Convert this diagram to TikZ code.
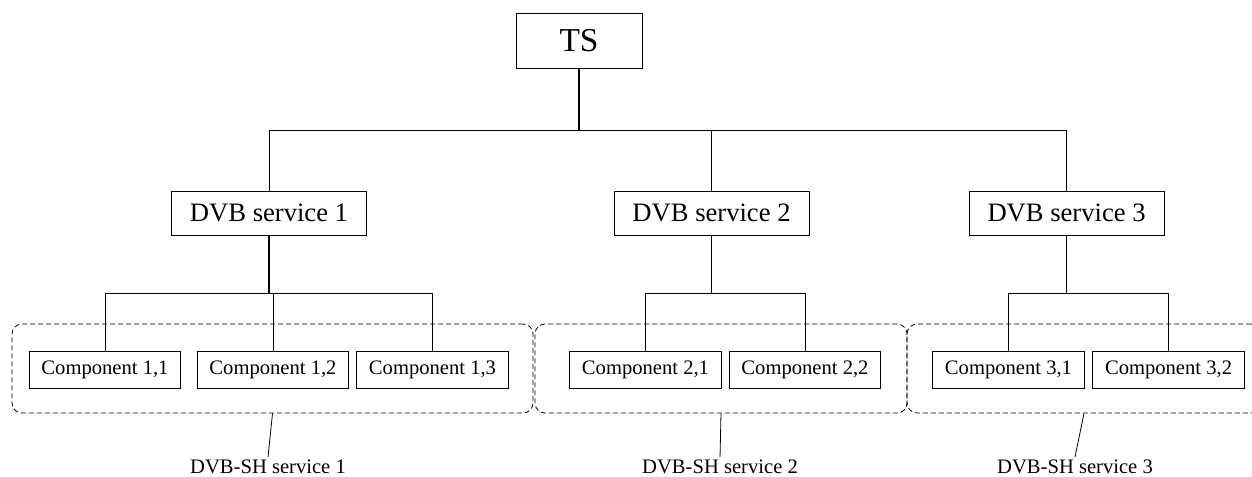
\documentclass[tikz,border=0pt]{standalone}
\usepackage{fontspec}
\setmainfont{Liberation Serif}
\usepackage{tikz}

\begin{document}
\begin{tikzpicture}[scale=0.2]
			\tikzstyle{every node}+=[inner sep=0pt]
			\tikzstyle{tsbox}=[draw=black, line width=0.8pt, minimum width=126pt, minimum height=55pt, font=\fontsize{33.4}{40}\selectfont]
			\tikzstyle{svcbox}=[draw=black, line width=0.8pt, minimum width=195pt, minimum height=44pt, font=\fontsize{26.6}{31}\selectfont]
			\tikzstyle{compbox}=[draw=black, line width=0.8pt, minimum width=151.5pt, minimum height=37pt, font=\fontsize{20.6}{24}\selectfont]
			\tikzstyle{shgroup}=[draw=black, line width=0.8pt, dash pattern=on 5pt off 3pt, rounded corners=10pt, minimum height=89pt]
			\tikzstyle{shlabel}=[anchor=base, font=\fontsize{20.6}{24}\selectfont]
			\tikzstyle{link}=[black, line width=0.8pt]
			\tikzstyle{stem}=[black, line width=1.2pt]
			\useasboundingbox (0,0) rectangle (220.01,-83.65);
			\clip (0,0) rectangle (220.01,-83.65);
			% DVB-SH groups
			\node [shgroup, minimum width=521pt] (grp1) at (47.89,-64.76) {};
			\node [shgroup, minimum width=372pt] (grp2) at (126.70,-64.76) {};
			\node [shgroup, minimum width=354pt] (grp3) at (190.49,-64.76) {};
			% tree
			\node [tsbox] (ts) at (101.75,-7.12) {TS};
			\node [svcbox] (svc1) at (47.27,-37.43) {DVB service 1};
			\node [svcbox] (svc2) at (125.03,-37.43) {DVB service 2};
			\node [svcbox] (svc3) at (187.42,-37.43) {DVB service 3};
			\node [compbox] (comp11) at (18.45,-64.93) {Component 1,1};
			\node [compbox] (comp12) at (47.97,-64.93) {Component 1,2};
			\node [compbox] (comp13) at (76.00,-64.93) {Component 1,3};
			\node [compbox] (comp21) at (113.43,-64.93) {Component 2,1};
			\node [compbox] (comp22) at (141.46,-64.93) {Component 2,2};
			\node [compbox] (comp31) at (177.22,-64.93) {Component 3,1};
			\node [compbox] (comp32) at (205.34,-64.93) {Component 3,2};
			\coordinate (tsbus) at (101.75,-22.85);
			\coordinate (bus1) at (47.27,-51.49);
			\coordinate (bus2) at (125.03,-51.49);
			\coordinate (bus3) at (187.42,-51.49);
			\draw [stem] (ts.south) -- (tsbus);
			\draw [link] (tsbus) -| (svc1.north);
			\draw [link] (tsbus) -| (svc2.north);
			\draw [link] (tsbus) -| (svc3.north);
			\draw [stem] (svc1.south) -- (bus1);
			\draw [link] (bus1) -| (comp11.north);
			\draw [link] (bus1) -| (comp12.north);
			\draw [link] (bus1) -| (comp13.north);
			\draw [stem] (svc2.south) -- (bus2);
			\draw [link] (bus2) -| (comp21.north);
			\draw [link] (bus2) -| (comp22.north);
			\draw [stem] (svc3.south) -- (bus3);
			\draw [link] (bus3) -| (comp31.north);
			\draw [link] (bus3) -| (comp32.north);
			% labels
			\node [shlabel] (lab1) at (47.10,-83.12) {DVB-SH service 1};
			\node [shlabel] (lab2) at (126.53,-83.12) {DVB-SH service 2};
			\node [shlabel] (lab3) at (188.91,-83.12) {DVB-SH service 3};
			\draw [link] (grp1.south) -- ([yshift=11pt]lab1.north);
			\draw [link] (grp2.south) -- ([yshift=11pt]lab2.north);
			\draw [link] (grp3.south) -- ([yshift=11pt]lab3.north);
\end{tikzpicture}
\end{document}
